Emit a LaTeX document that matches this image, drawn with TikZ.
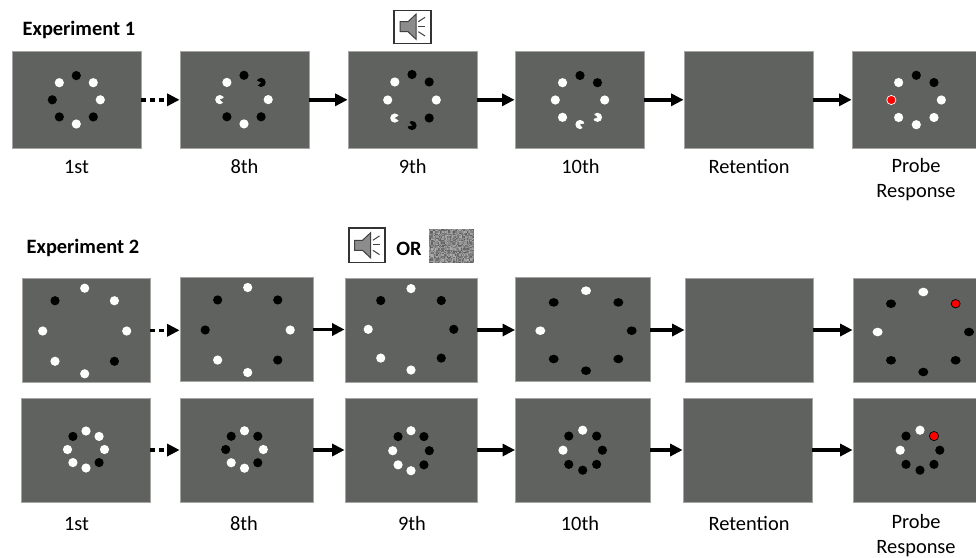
\documentclass[tikz,border=0pt]{standalone}
\usepackage{fontspec}
\setmainfont{Carlito}
\usepackage{tikz}
\usetikzlibrary{arrows.meta,shapes.geometric}
\definecolor{panelgray}{RGB}{96,98,96}
\definecolor{panelrim}{RGB}{165,166,164}
\definecolor{conegray}{RGB}{140,140,140}

% ring of eight dots, clockwise from the top: name, centre, x and y radius, styles
\newcommand{\ringdots}[5]{
  \node[fixmark] (#1-fix) at (#2) {};
  \foreach \dotstyle [count=\i] in {#5} {
    \pgfmathsetmacro{\ang}{(\i-1)*45-90}
    \path (#2) ++(\ang:#3 and #4) node[\dotstyle] (#1-\i) {};
  }
}
% notch of a dot: name, angle
\newcommand{\notch}[2]{
  \fill[panelgray] (#1.center) -- ++(#2-32:6) arc (#2-32:#2+32:6) -- cycle;
}
% speaker drawn round the centre of its box
\newcommand{\speaker}[1]{
  \draw[iconline,fill=conegray] ([shift={(-12.5,-5)}]#1.center) -- ++(8,0) -- ++(8,-7.5) -- ++(0,25)
    -- ++(-8,-7.5) -- ++(-8,0) -- cycle;
  \draw[iconline] ([shift={(5.8,-5)}]#1.center) -- ++(6.7,-4.4);
  \draw[iconline] ([shift={(5.8,-.7)}]#1.center) -- ++(6.7,0);
  \draw[iconline] ([shift={(5.8,5)}]#1.center) -- ++(6.7,4.3);
}

\begin{document}
\begin{tikzpicture}[x=1pt,y=-1pt
  ,>={Triangle[length=12.5pt,width=12pt]}
  ,every node/.style={font=\fontsize{20.4}{25}\selectfont}]
  \tikzstyle{panel}=[draw=panelrim,line width=.8pt,fill=panelgray,inner sep=0pt]
  \tikzstyle{toprow}=[panel,minimum width=129pt,minimum height=97pt]
  \tikzstyle{lowrow}=[panel,minimum height=104pt]
  \tikzstyle{fixmark}=[circle,fill=gray!45!panelgray,inner sep=0pt,minimum size=1pt]
  \tikzstyle{dotbase}=[ellipse,inner sep=0pt,minimum width=9.2pt,minimum height=9.2pt]
  \tikzstyle{k}=[dotbase,fill=black]
  \tikzstyle{w}=[dotbase,fill=white]
  \tikzstyle{rw}=[dotbase,fill=red,draw=white,line width=.7pt]
  \tikzstyle{rk}=[dotbase,fill=red,draw=black,line width=.7pt]
  \tikzstyle{kw}=[k,minimum width=10pt,minimum height=8.6pt]
  \tikzstyle{ww}=[w,minimum width=10pt,minimum height=8.6pt]
  \tikzstyle{rkw}=[rk,minimum width=9pt,minimum height=8.4pt]
  \tikzstyle{caption}=[anchor=north,align=center,inner sep=0pt,execute at begin node=\strut]
  \tikzstyle{heading}=[anchor=west,inner sep=0pt,font=\fontsize{20.4}{25}\selectfont\bfseries]
  \tikzstyle{link}=[->,line width=3.4pt]
  \tikzstyle{dotlink}=[link,dash pattern=on 5pt off 3.8pt]
  \tikzstyle{iconbox}=[draw=black!80,line width=1.2pt,fill=white,inner sep=0pt]
  \tikzstyle{iconline}=[draw=black!75,line width=1pt]

  \clip (0,0) rectangle (976,557);

  % experiment 1
  \node[heading] (head1) at (22.5,29.5) {Experiment 1};
  \node[toprow] (a1) at (76.5,99.8) {};
  \node[toprow] (a2) at (244.5,99.8) {};
  \node[toprow] (a3) at (412.5,99.8) {};
  \node[toprow] (a4) at (579.5,99.8) {};
  \node[toprow] (a5) at (748.5,99.8) {};
  \node[toprow] (a6) at (916.5,99.8) {};

  \ringdots{ra1}{76.3,99.8}{24}{24.2}{k,w,w,k,w,k,k,w}
  \ringdots{ra2}{244,99.6}{24.2}{24.3}{k,k,w,k,w,k,w,w}
  \ringdots{ra3}{412,100}{24.3}{25.5}{k,k,w,k,k,w,w,w}
  \ringdots{ra4}{580,100}{24.7}{24.5}{k,k,w,w,w,w,w,w}
  \ringdots{ra6}{916.3,100}{25}{24.7}{k,k,w,w,w,w,rw,w}
  \node[fixmark] (ra5-fix) at (748.5,99.8) {};
  \notch{ra2-2}{170}
  \notch{ra2-7}{10}
  \notch{ra3-5}{200}
  \notch{ra3-6}{0}
  \notch{ra4-4}{190}
  \notch{ra4-5}{20}

  \node[iconbox,minimum width=37pt,minimum height=33pt] (sound1) at (412.5,26.7) {};
  \speaker{sound1}

  \path (a1.east) edge[dotlink] (a2.west);
  \path
  (a2.east) edge[link] (a3.west)
  (a3.east) edge[link] (a4.west)
  (a4.east) edge[link] (a5.west)
  (a5.east) edge[link] (a6.west);

  \node[caption] (ca1) at (76.5,155.5) {1st};
  \node[caption] (ca2) at (244.5,155.5) {8th};
  \node[caption] (ca3) at (412.7,155.5) {9th};
  \node[caption] (ca4) at (580.5,155.5) {10th};
  \node[caption] (ca5) at (749,155.5) {Retention};
  \node[caption] (ca6) at (916,158) {Probe\\Response};

  % experiment 2
  \node[heading] (head2) at (26.5,248) {Experiment 2};
  \node[iconbox,minimum width=36pt,minimum height=34.7pt] (sound2) at (367,245.3) {};
  \speaker{sound2}
  \node[heading,anchor=center] (orword) at (409,248.5) {OR};
  \node[fill=gray,inner sep=0pt,minimum width=45pt,minimum height=34pt] (noise) at (451.5,246) {};
  \pgfmathsetseed{7}
  \foreach \u in {0,...,36} {
    \foreach \v in {0,...,27} {
      \pgfmathsetmacro{\shade}{int(32+32*rnd)}
      \fill[black!\shade] (429+\u*1.216,229+\v*1.214) rectangle ++(1.216,1.214);
    }
  }

  % wide ring
  \node[lowrow,minimum width=128pt] (b1) at (86,330.3) {};
  \node[lowrow,minimum width=133pt] (b2) at (246.5,329.5) {};
  \node[lowrow,minimum width=132pt] (b3) at (411,330) {};
  \node[lowrow,minimum width=134.5pt] (b4) at (582.7,329) {};
  \node[lowrow,minimum width=128pt] (b5) at (749,330) {};
  \node[lowrow,minimum width=134pt] (b6) at (920,330.7) {};

  \ringdots{rb1}{84.7,331}{42}{42.8}{w,w,w,k,w,w,w,k}
  \ringdots{rb2}{247.7,330}{42.5}{42.5}{w,k,w,k,w,w,k,k}
  \ringdots{rb3}{411,329.3}{42.8}{40.7}{w,k,k,k,w,w,w,k}
  \ringdots{rb4}{586,330.7}{45.7}{40}{ww,kw,kw,kw,kw,kw,ww,kw}
  \ringdots{rb6}{923.3,332}{45.7}{40}{ww,rkw,kw,kw,kw,kw,ww,kw}
  \node[fixmark] (rb5-fix) at (749,330) {};

  \path (b1.east) edge[dotlink] (b2.west |- b1.east);
  \path
  (b2.east) edge[link] (b3.west |- b2.east)
  (b3.east) edge[link] (b4.west |- b3.east)
  (b5.west -| b4.east) edge[link] (b5.west)
  (b5.east) edge[link] (b6.west |- b5.east);

  % narrow ring
  \node[lowrow,minimum width=128.5pt] (c1) at (85.8,450) {};
  \node[lowrow,minimum width=133pt] (c2) at (246.5,450) {};
  \node[lowrow,minimum width=132pt] (c3) at (411,450) {};
  \node[lowrow,minimum width=134.5pt] (c4) at (582.7,450) {};
  \node[lowrow,minimum width=129pt] (c5) at (747.5,450) {};
  \node[lowrow,minimum width=134pt] (c6) at (920,450) {};

  \ringdots{rc1}{86,449.5}{18.5}{18.5}{w,w,w,k,w,w,w,k}
  \ringdots{rc2}{244.5,449.5}{18.8}{18.7}{w,k,w,k,w,w,k,k}
  \ringdots{rc3}{411,450.7}{18.3}{20}{w,k,k,k,w,w,w,k}
  \ringdots{rc4}{582.7,450.2}{19.7}{20}{w,k,k,k,k,k,w,k}
  \ringdots{rc6}{920,450.2}{19.8}{20}{w,rk,k,k,k,k,w,k}
  \node[fixmark] (rc5-fix) at (747.5,450) {};

  \path (c1.east) edge[dotlink] (c2.west);
  \path
  (c2.east) edge[link] (c3.west)
  (c3.east) edge[link] (c4.west)
  (c4.east) edge[link] (c5.west)
  (c5.east) edge[link] (c6.west);

  \node[caption] (cc1) at (76.5,513) {1st};
  \node[caption] (cc2) at (244,513) {8th};
  \node[caption] (cc3) at (412,513) {9th};
  \node[caption] (cc4) at (580,513) {10th};
  \node[caption] (cc5) at (749,513) {Retention};
  \node[caption] (cc6) at (916,514.2) {Probe\\Response};
\end{tikzpicture}
\end{document}
